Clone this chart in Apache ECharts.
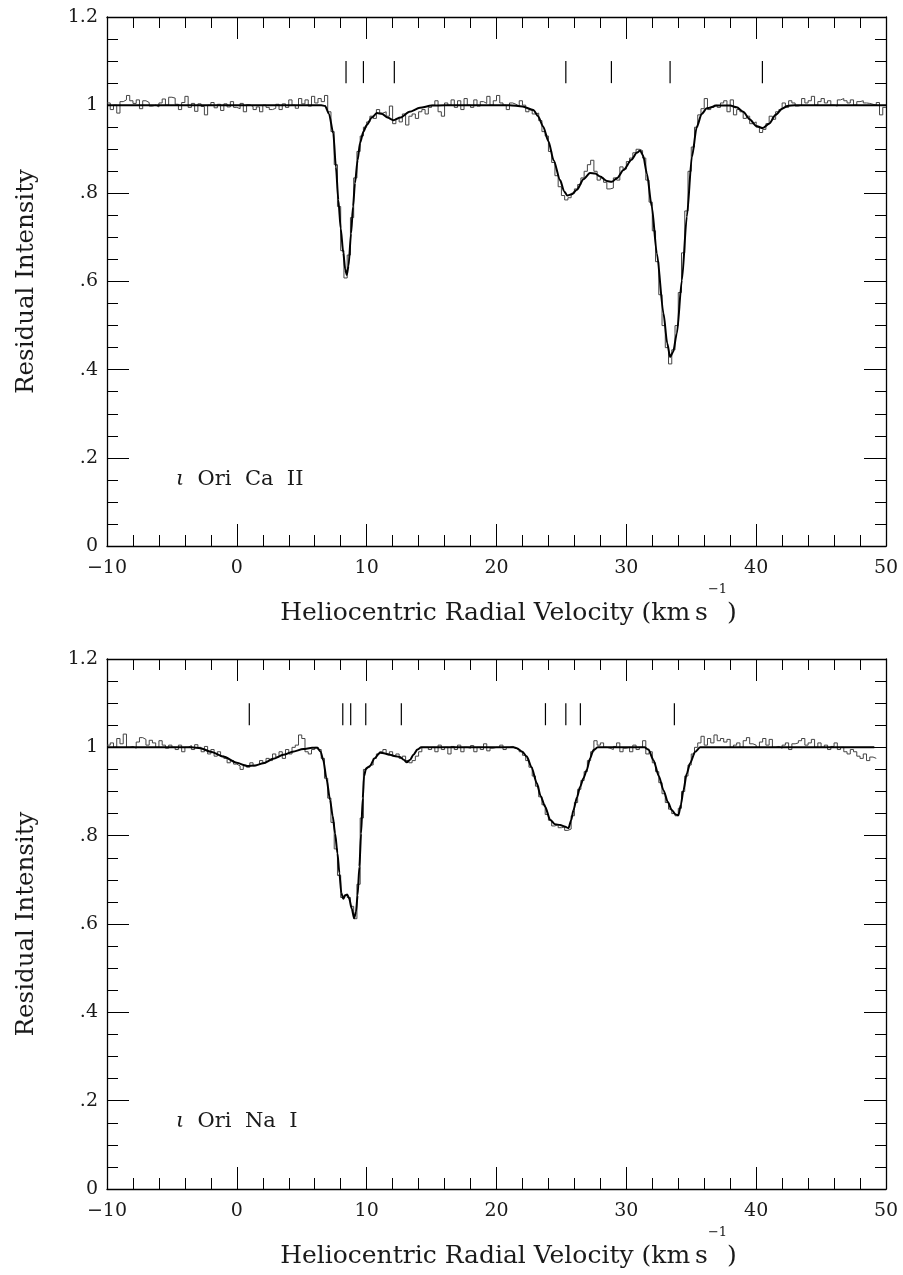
<!DOCTYPE html>
<html>
<head>
<meta charset="utf-8">
<script src="https://cdn.jsdelivr.net/npm/echarts@6/dist/echarts.min.js"></script>
<style>
html,body{margin:0;padding:0;background:#fff;}
#chart{width:903px;height:1275px;}
</style>
</head>
<body>
<div id="chart"></div>
<script>
// ---------------- DATA ----------------
const VEL_START = -10;      // left edge of first histogram bin (km/s)
const BIN = 0.25;           // histogram bin width (km/s)

const xTickLabels = ['\u221210', '0', '10', '20', '30', '40', '50'];
const yTickLabels = ['0', '.2', '.4', '.6', '.8', '1', '1.2'];

// iota Ori Ca II observed spectrum (histogram), bins of 0.25 km/s from -10
const histCa = [
  1.005, 0.990, 1.000, 0.982, 1.008, 1.012, 1.022, 1.010, 1.004, 1.012, 0.992, 1.010, 1.006, 0.998, 1.000, 0.996, 1.005, 1.014, 1.000, 1.018,
  1.016, 1.002, 0.990, 1.006, 1.020, 0.995, 1.004, 0.986, 1.003, 0.997, 0.978, 1.000, 1.006, 0.994, 1.002, 0.988, 1.003, 0.996, 1.008, 0.995,
  0.992, 1.004, 0.985, 1.001, 0.997, 0.990, 0.996, 0.985, 1.000, 0.995, 0.990, 0.993, 1.002, 0.990, 1.003, 0.995, 1.012, 1.000, 0.993, 1.015,
  1.003, 1.012, 0.998, 1.020, 1.005, 1.015, 1.008, 1.022, 0.985, 0.940, 0.865, 0.770, 0.670, 0.608, 0.660, 0.745, 0.835, 0.895, 0.930, 0.950,
  0.962, 0.975, 0.970, 0.990, 0.982, 0.985, 0.975, 0.998, 0.958, 0.970, 0.962, 0.980, 0.955, 0.975, 0.980, 0.970, 0.985, 0.990, 0.980, 0.995,
  1.000, 1.010, 0.985, 0.975, 1.005, 1.000, 1.012, 0.995, 1.010, 0.990, 1.015, 1.000, 0.995, 1.012, 0.998, 1.008, 1.004, 1.020, 1.000, 1.010,
  1.022, 1.005, 1.000, 0.990, 1.005, 1.002, 0.998, 1.010, 1.000, 0.985, 0.990, 0.980, 0.982, 0.965, 0.940, 0.930, 0.895, 0.870, 0.840, 0.815,
  0.795, 0.785, 0.790, 0.800, 0.810, 0.820, 0.835, 0.850, 0.865, 0.875, 0.850, 0.830, 0.835, 0.825, 0.810, 0.812, 0.835, 0.830, 0.860, 0.855,
  0.872, 0.880, 0.892, 0.900, 0.897, 0.880, 0.830, 0.780, 0.715, 0.645, 0.570, 0.500, 0.450, 0.413, 0.445, 0.500, 0.575, 0.665, 0.760, 0.850,
  0.905, 0.950, 0.978, 0.992, 1.015, 0.990, 0.995, 1.000, 0.995, 1.005, 1.010, 0.985, 1.012, 0.978, 0.990, 0.985, 0.970, 0.975, 0.958, 0.962,
  0.950, 0.938, 0.945, 0.958, 0.975, 0.968, 0.985, 0.990, 1.005, 0.995, 1.010, 1.005, 0.998, 1.000, 1.015, 1.005, 1.010, 1.020, 1.000, 1.008,
  1.015, 1.005, 1.010, 1.000, 0.998, 1.012, 1.015, 1.010, 1.005, 1.012, 1.000, 1.008, 1.010, 1.005, 1.004, 1.002, 1.000, 1.006, 0.978, 0.995
];

// iota Ori Na I observed spectrum (histogram), bins of 0.25 km/s from -10
const histNa = [
  1.005, 1.010, 1.000, 1.020, 1.008, 1.030, 1.000, 1.002, 0.998, 1.012, 1.022, 1.018, 1.005, 1.016, 1.010, 1.000, 1.015, 1.005, 0.998, 1.005,
  1.000, 0.995, 1.005, 0.990, 1.000, 1.004, 0.995, 1.006, 1.000, 0.990, 1.002, 0.985, 0.995, 0.980, 0.990, 0.980, 0.975, 0.965, 0.970, 0.962,
  0.958, 0.950, 0.960, 0.955, 0.965, 0.958, 0.962, 0.970, 0.965, 0.975, 0.970, 0.985, 0.978, 0.990, 0.975, 0.995, 0.985, 1.000, 1.005, 1.028,
  1.020, 0.990, 0.985, 0.995, 1.000, 0.995, 0.975, 0.930, 0.885, 0.830, 0.770, 0.710, 0.660, 0.665, 0.660, 0.640, 0.612, 0.690, 0.840, 0.950,
  0.955, 0.960, 0.975, 0.985, 0.990, 0.995, 0.985, 0.990, 0.980, 0.985, 0.975, 0.980, 0.970, 0.965, 0.970, 0.980, 0.990, 1.000, 1.000, 0.995,
  1.000, 0.990, 1.005, 0.995, 1.000, 0.985, 1.002, 0.995, 1.005, 0.990, 1.000, 0.998, 1.004, 0.990, 1.000, 0.995, 1.008, 0.992, 0.998, 1.000,
  1.000, 1.005, 0.995, 1.000, 1.002, 0.998, 0.995, 0.990, 0.982, 0.970, 0.955, 0.935, 0.912, 0.888, 0.870, 0.848, 0.835, 0.822, 0.825, 0.818,
  0.820, 0.812, 0.815, 0.845, 0.875, 0.905, 0.925, 0.945, 0.970, 0.990, 1.015, 1.005, 1.010, 1.000, 0.998, 0.995, 1.002, 1.010, 0.990, 0.998,
  1.000, 0.990, 1.005, 0.995, 1.000, 1.015, 0.985, 0.990, 0.965, 0.945, 0.920, 0.895, 0.875, 0.860, 0.850, 0.845, 0.862, 0.900, 0.935, 0.960,
  0.985, 1.000, 1.010, 1.025, 1.005, 1.020, 1.010, 1.028, 1.015, 1.020, 1.012, 1.018, 1.000, 1.005, 1.010, 1.000, 1.015, 1.022, 1.008, 1.005,
  1.000, 1.012, 1.020, 1.005, 1.018, 1.000, 1.002, 0.998, 1.005, 1.010, 0.995, 1.008, 1.010, 1.015, 1.020, 1.005, 1.010, 1.018, 1.000, 1.010,
  1.000, 1.005, 0.995, 1.002, 1.010, 0.995, 1.000, 0.990, 0.985, 0.995, 0.990, 0.980, 0.975, 0.985, 0.970, 0.978, 0.975
];

// model fits [velocity, residual intensity]
const fitCa = [
  [-10,1],[6.5,1],[6.8,0.998],[7.1,0.98],[7.43,0.936],[7.63,0.86],[7.82,0.785],[8.0,0.72],[8.2,0.665],[8.35,0.627],
  [8.47,0.615],[8.6,0.635],[8.8,0.709],[8.95,0.77],[9.1,0.823],[9.3,0.875],[9.49,0.914],[9.75,0.94],[10.0,0.955],[10.4,0.972],
  [10.78,0.982],[11.2,0.98],[11.6,0.972],[12.06,0.966],[12.6,0.972],[13.3,0.985],[14.1,0.994],[15,0.999],[16,1],[21,1],
  [22,0.997],[22.84,0.989],[23.2,0.975],[23.6,0.951],[24.0,0.918],[24.4,0.875],[24.9,0.83],[25.2,0.805],[25.45,0.795],[25.8,0.798],
  [26.19,0.808],[26.7,0.832],[27.2,0.846],[27.6,0.845],[27.98,0.838],[28.5,0.828],[28.88,0.826],[29.3,0.835],[29.78,0.853],[30.4,0.876],
  [30.8,0.892],[31.06,0.897],[31.3,0.885],[31.58,0.845],[31.96,0.77],[32.35,0.664],[32.86,0.528],[33.15,0.46],[33.37,0.429],[33.6,0.44],
  [33.89,0.482],[34.28,0.603],[34.66,0.747],[35.05,0.883],[35.43,0.951],[35.8,0.98],[36.2,0.993],[37,0.999],[38,0.999],[38.5,0.995],
  [39.0,0.985],[39.5,0.968],[40.0,0.953],[40.49,0.948],[41.0,0.958],[41.5,0.978],[42.0,0.992],[42.4,0.998],[43,1],[50,1]
];
const fitNa = [
  [-10,1],[-3.5,1],[-2.8,0.998],[-2.0,0.99],[-1.04,0.979],[0,0.965],[0.76,0.958],[1.4,0.959],[2.04,0.964],[2.8,0.974],
  [3.58,0.983],[4.3,0.99],[5.12,0.996],[5.8,0.999],[6.2,0.999],[6.45,0.99],[6.66,0.971],[6.9,0.93],[7.18,0.881],[7.38,0.845],
  [7.57,0.805],[7.75,0.76],[7.9,0.715],[8.05,0.67],[8.2,0.657],[8.35,0.665],[8.5,0.667],[8.65,0.658],[8.85,0.635],[9.03,0.613],
  [9.18,0.628],[9.3,0.665],[9.44,0.73],[9.57,0.805],[9.7,0.885],[9.8,0.935],[9.95,0.952],[10.26,0.958],[10.6,0.975],[11.03,0.988],
  [11.4,0.986],[11.8,0.983],[12.2,0.98],[12.57,0.978],[12.85,0.972],[13.09,0.966],[13.35,0.972],[13.6,0.983],[13.9,0.995],[14.2,1],
  [21.3,1],[21.56,0.998],[22.0,0.99],[22.33,0.979],[22.7,0.955],[23.1,0.919],[23.4,0.89],[23.74,0.866],[24.13,0.836],[24.5,0.826],
  [24.9,0.824],[25.3,0.82],[25.54,0.817],[25.75,0.835],[25.93,0.858],[26.2,0.887],[26.44,0.911],[26.7,0.93],[26.96,0.949],[27.2,0.975],
  [27.47,0.994],[27.8,1],[31.4,1],[31.7,0.995],[32.09,0.971],[32.5,0.935],[32.86,0.903],[33.2,0.876],[33.5,0.858],[33.8,0.848],
  [34.01,0.846],[34.2,0.87],[34.4,0.903],[34.65,0.94],[34.91,0.964],[35.3,0.99],[35.68,1],[49.1,1]
];

// velocity components (tick marks above the spectrum)
const compsCa = [8.41, 9.75, 12.13, 25.34, 28.85, 33.37, 40.48];
const compsNa = [0.96, 8.16, 8.77, 9.93, 12.67, 23.77, 25.34, 26.46, 33.7];
const COMP_LO = 1.05, COMP_HI = 1.10;

const labelCa = '{i|\u03b9}  Ori  Ca  II';
const labelNa = '{i|\u03b9}  Ori  Na  I';

// ---------------- CHART ----------------
const FONT = 'DejaVu Serif';
const INK = '#1a1a1a';

function histData(vals) {
  const d = vals.map((y, i) => [VEL_START + BIN * i, y]);
  d.push([VEL_START + BIN * vals.length, vals[vals.length - 1]]);
  return d;
}

const grids = [
  {left: 107, top: 17, width: 779, height: 529},
  {left: 107, top: 659, width: 779, height: 530}
];

const lineStyleAxis = {color: '#000', width: 1.3};

function xAxes(gi) {
  const base = {
    gridIndex: gi, type: 'value', min: -10, max: 50, interval: 10,
    axisLine: {show: true, onZero: false, lineStyle: lineStyleAxis},
    axisTick: {show: true, inside: true, length: 22, lineStyle: {color: '#000', width: 1}},
    minorTick: {show: true, splitNumber: 5, length: 11, lineStyle: {color: '#000', width: 1}},
    splitLine: {show: false}, minorSplitLine: {show: false}
  };
  return [
    Object.assign({}, base, {
      position: 'bottom',
      axisLabel: {
        show: true, margin: 13, fontFamily: FONT, fontSize: 19, color: INK,
        formatter: v => xTickLabels[Math.round((v + 10) / 10)]
      },
      name: '{t|Heliocentric Radial Velocity (km\u2009s}{s|\u22121}{t|)}',
      nameLocation: 'middle', nameGap: 37,
      nameTextStyle: {
        fontFamily: FONT, fontSize: 25, color: INK, padding: [0, 0, 0, 24],
        rich: {
          t: {fontFamily: FONT, fontSize: 25, color: INK, lineHeight: 60, verticalAlign: 'middle'},
          s: {fontFamily: FONT, fontSize: 13, color: INK, lineHeight: 13, verticalAlign: 'top'}
        }
      }
    }),
    Object.assign({}, base, {position: 'top', axisLabel: {show: false}})
  ];
}
function yAxes(gi) {
  const base = {
    gridIndex: gi, type: 'value', min: 0, max: 1.2, interval: 0.2,
    axisLine: {show: true, onZero: false, lineStyle: lineStyleAxis},
    axisTick: {show: true, inside: true, length: 22, lineStyle: {color: '#000', width: 1}},
    minorTick: {show: true, splitNumber: 4, length: 11, lineStyle: {color: '#000', width: 1}},
    splitLine: {show: false}, minorSplitLine: {show: false}
  };
  return [
    Object.assign({}, base, {
      position: 'left',
      axisLabel: {
        show: true, margin: 9, fontFamily: FONT, fontSize: 19, color: INK,
        formatter: v => yTickLabels[Math.round(v / 0.2)]
      },
      name: 'Residual Intensity', nameLocation: 'middle', nameGap: 68,
      nameTextStyle: {fontFamily: FONT, fontSize: 24.5, color: INK}
    }),
    Object.assign({}, base, {position: 'right', axisLabel: {show: false}})
  ];
}

function compSeries(comps, xi, yi) {
  return {
    type: 'custom', xAxisIndex: xi, yAxisIndex: yi, silent: true,
    data: comps.map(v => [v, COMP_LO, COMP_HI]),
    renderItem: (params, api) => {
      const p1 = api.coord([api.value(0), api.value(1)]);
      const p2 = api.coord([api.value(0), api.value(2)]);
      return {type: 'line', shape: {x1: p1[0], y1: p1[1], x2: p2[0], y2: p2[1]},
              style: {stroke: '#000', lineWidth: 1.2}};
    }
  };
}

function histSeries(vals, xi, yi) {
  return {
    type: 'line', xAxisIndex: xi, yAxisIndex: yi, step: 'end', symbol: 'none',
    lineStyle: {color: '#444', width: 1}, data: histData(vals), silent: true, z: 2
  };
}
function fitSeries(pts, xi, yi) {
  return {
    type: 'line', xAxisIndex: xi, yAxisIndex: yi, smooth: 0.25, smoothMonotone: 'x', symbol: 'none',
    lineStyle: {color: '#000', width: 2}, data: pts, silent: true, z: 3
  };
}

const chart = echarts.init(document.getElementById('chart'), null, {renderer: 'canvas'});
chart.setOption({
  animation: false,
  backgroundColor: '#fff',
  grid: grids,
  xAxis: [...xAxes(0), ...xAxes(1)],
  yAxis: [...yAxes(0), ...yAxes(1)],
  series: [
    histSeries(histCa, 0, 0), fitSeries(fitCa, 0, 0), compSeries(compsCa, 0, 0),
    histSeries(histNa, 2, 2), fitSeries(fitNa, 2, 2), compSeries(compsNa, 2, 2)
  ],
  graphic: [
    {type: 'text', x: 176, y: 480, silent: true,
     style: {text: labelCa, fill: INK, fontFamily: FONT, fontSize: 21, verticalAlign: 'middle',
             rich: {i: {fontFamily: FONT, fontSize: 21, fontStyle: 'italic', fill: INK}}}},
    {type: 'text', x: 176, y: 1122, silent: true,
     style: {text: labelNa, fill: INK, fontFamily: FONT, fontSize: 21, verticalAlign: 'middle',
             rich: {i: {fontFamily: FONT, fontSize: 21, fontStyle: 'italic', fill: INK}}}}
  ]
});
</script>
</body>
</html>
